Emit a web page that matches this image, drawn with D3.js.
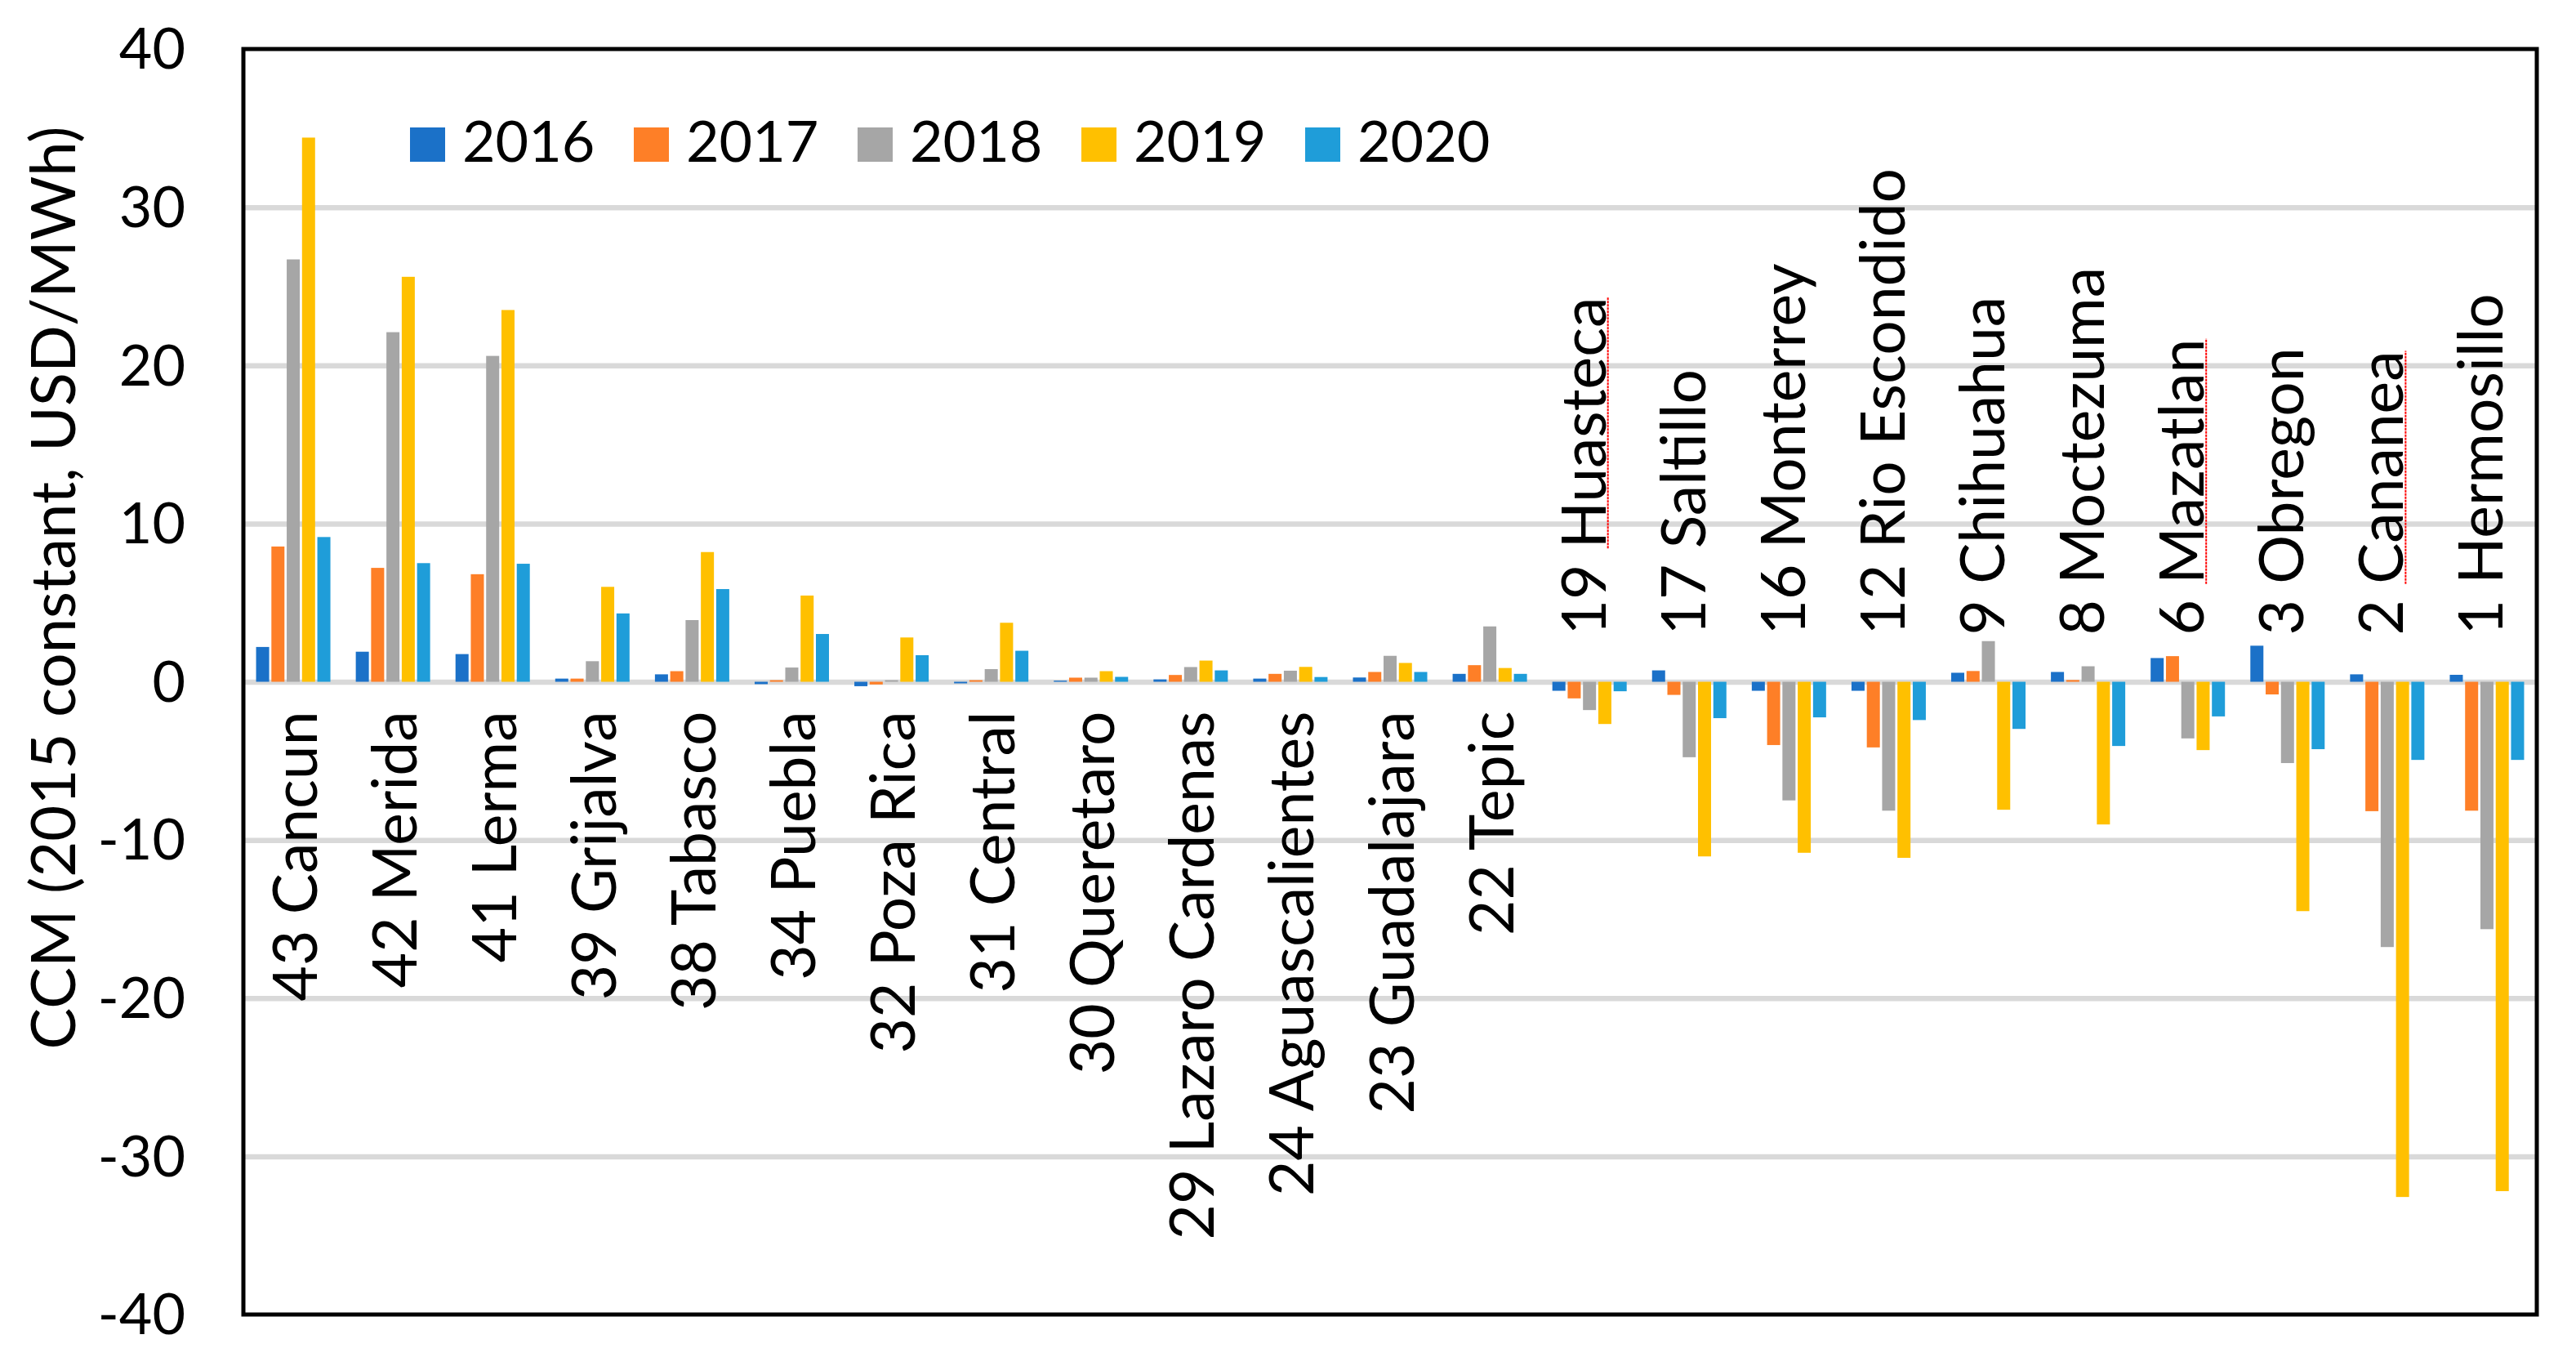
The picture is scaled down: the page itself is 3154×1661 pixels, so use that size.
<!DOCTYPE html>
<html>
    <head>
        <meta charset="utf-8"/>
        <script src="https://cdnjs.cloudflare.com/ajax/libs/d3/7.8.5/d3.min.js"></script>
        <style>
            body { margin: 0; background: #fff; }
            text { font-family: Lato, "Open Sans", sans-serif; fill: #000; }
        </style>
    </head>
    <body>
        <script>
            // regions, left to right
            const regions = ["43 Cancun", "42 Merida", "41 Lerma", "39 Grijalva", "38 Tabasco", "34 Puebla",
                "32 Poza Rica", "31 Central", "30 Queretaro", "29 Lazaro Cardenas", "24 Aguascalientes",
                "23 Guadalajara", "22 Tepic", "19 Huasteca", "17 Saltillo", "16 Monterrey", "12 Rio Escondido",
                "9 Chihuahua", "8 Moctezuma", "6 Mazatlan", "3 Obregon", "2 Cananea", "1 Hermosillo"];
            const years = ["2016", "2017", "2018", "2019", "2020"];

            // CCM values (USD/MWh)
            const v2016 = [2.2, 1.9, 1.75, 0.2, 0.47, -0.15, -0.28, -0.1, 0.07, 0.15, 0.2, 0.27, 0.5,
                -0.57, 0.72, -0.57, -0.57, 0.57, 0.62, 1.5, 2.28, 0.47, 0.44];
            const v2017 = [8.55, 7.2, 6.8, 0.2, 0.67, 0.1, -0.17, 0.1, 0.26, 0.43, 0.5, 0.62, 1.05,
                -1.05, -0.83, -4.0, -4.15, 0.68, 0.11, 1.62, -0.8, -8.18, -8.15];
            const v2018 = [26.7, 22.1, 20.6, 1.3, 3.9, 0.9, 0.1, 0.8, 0.26, 0.93, 0.7, 1.64, 3.5,
                -1.79, -4.77, -7.5, -8.15, 2.57, 0.98, -3.58, -5.14, -16.77, -15.64];
            const v2019 = [34.4, 25.6, 23.5, 6.0, 8.2, 5.45, 2.8, 3.73, 0.67, 1.34, 0.94, 1.19, 0.87,
                -2.67, -11.04, -10.81, -11.13, -8.09, -9.02, -4.32, -14.5, -32.57, -32.2];
            const v2020 = [9.15, 7.5, 7.46, 4.32, 5.86, 3.02, 1.68, 1.96, 0.31, 0.72, 0.3, 0.62, 0.5,
                -0.6, -2.3, -2.25, -2.42, -2.98, -4.06, -2.19, -4.26, -4.94, -4.94];

            const yTicks = [-40, -30, -20, -10, 0, 10, 20, 30, 40];
            const yTitle = "CCM (2015 constant, USD/MWh)";
            // labels carrying the red spell-check underline in the original
            const underlined = ["19 Huasteca", "6 Mazatlan", "2 Cananea"];

            function drawChart() {
                let width = 3154;
                let height = 1661;
                let margin = {top: 60, right: 48, bottom: 52, left: 298};
                let colors = ["#1b71c8", "#fe7f27", "#a6a6a6", "#ffc000", "#1f9dd9"];

                let series = [v2016, v2017, v2018, v2019, v2020];
                let data = regions.map((r, i) => ({
                    region: r,
                    values: years.map((yr, j) => ({year: yr, value: series[j][i]}))
                }));

                let x0 = d3.scaleBand()
                    .domain(regions)
                    .range([margin.left, width - margin.right])
                    .paddingInner(0.2546)
                    .paddingOuter(0.1273);

                let x1 = d3.scaleBand()
                    .domain(years)
                    .range([0, x0.bandwidth()])
                    .paddingInner(0.147);

                let y = d3.scaleLinear()
                    .domain([-40, 40])
                    .range([height - margin.bottom, margin.top]);

                let color = d3.scaleOrdinal().domain(years).range(colors);

                const svg = d3.select("body").append("svg")
                    .attr("width", width)
                    .attr("height", height)
                    .attr("viewBox", [0, 0, width, height]);

                // gridlines
                svg.append("g")
                    .attr("transform", `translate(${margin.left},0)`)
                    .call(d3.axisLeft(y).tickValues(yTicks.slice(1, -1))
                        .tickSize(-(width - margin.left - margin.right)).tickFormat(""))
                    .call(g => g.select(".domain").remove())
                    .call(g => g.selectAll(".tick line").attr("stroke", "#d9d9d9").attr("stroke-width", 6.5));

                // tick labels
                svg.append("g")
                    .attr("transform", `translate(${margin.left},0)`)
                    .call(d3.axisLeft(y).tickValues(yTicks).tickSize(0).tickPadding(71).tickFormat(d => String(d)))
                    .call(g => g.select(".domain").remove())
                    .call(g => g.selectAll("text").attr("font-size", 70).attr("font-family", null).attr("dy", "0.34em"));

                // bars
                svg.append("g")
                    .selectAll("g")
                    .data(data)
                    .join("g")
                    .attr("transform", d => `translate(${x0(d.region)},0)`)
                    .selectAll("rect")
                    .data(d => d.values)
                    .join("rect")
                    .attr("x", d => x1(d.year))
                    .attr("width", x1.bandwidth())
                    .attr("y", d => y(Math.max(0, d.value)))
                    .attr("height", d => Math.abs(y(d.value) - y(0)))
                    .attr("fill", d => color(d.year));

                // category labels: under the axis for positive groups, above it for negative ones
                let labels = svg.append("g")
                    .attr("font-size", 75)
                    .selectAll("g")
                    .data(data)
                    .join("g")
                    .attr("transform", d => {
                        let below = d3.sum(d.values, v => v.value) >= 0;
                        let cx = x0(d.region) + x0.bandwidth() / 2 + (below ? 28.5 : 19.5);
                        let ty = below ? y(0) + 36 : y(0) - 57;
                        return `translate(${cx},${ty}) rotate(-90)`;
                    });

                labels.append("text")
                    .attr("text-anchor", d => d3.sum(d.values, v => v.value) >= 0 ? "end" : "start")
                    .text(d => d.region);

                labels.filter(d => underlined.includes(d.region))
                    .each(function(d) {
                        let node = d3.select(this).select("text").node();
                        let idx = d.region.indexOf(" ") + 1;
                        let start = node.getSubStringLength(0, idx);
                        let len = node.getSubStringLength(idx, d.region.length - idx);
                        d3.select(this).append("line")
                            .attr("x1", start).attr("x2", start + len)
                            .attr("y1", 3).attr("y2", 3)
                            .attr("stroke", "#f00")
                            .attr("stroke-width", 2)
                            .attr("stroke-dasharray", "3,1");
                    });

                // legend
                let legend = svg.append("g")
                    .selectAll("g")
                    .data(years)
                    .join("g")
                    .attr("transform", (d, i) => `translate(${502 + i * 274},177)`);
                legend.append("rect")
                    .attr("y", -21)
                    .attr("width", 43)
                    .attr("height", 42)
                    .attr("fill", d => color(d));
                legend.append("text")
                    .attr("x", 64)
                    .attr("y", 21)
                    .attr("font-size", 70)
                    .text(d => d);

                // y title
                svg.append("text")
                    .attr("transform", `translate(92,${(margin.top + height - margin.bottom) / 2 - 115}) rotate(-90)`)
                    .attr("text-anchor", "middle")
                    .attr("font-size", 76)
                    .text(yTitle);

                // plot frame
                svg.append("rect")
                    .attr("x", margin.left)
                    .attr("y", margin.top)
                    .attr("width", width - margin.left - margin.right)
                    .attr("height", height - margin.top - margin.bottom)
                    .attr("fill", "none")
                    .attr("stroke", "#000")
                    .attr("stroke-width", 5);
            }
            drawChart()
        </script>
    </body>
</html>
